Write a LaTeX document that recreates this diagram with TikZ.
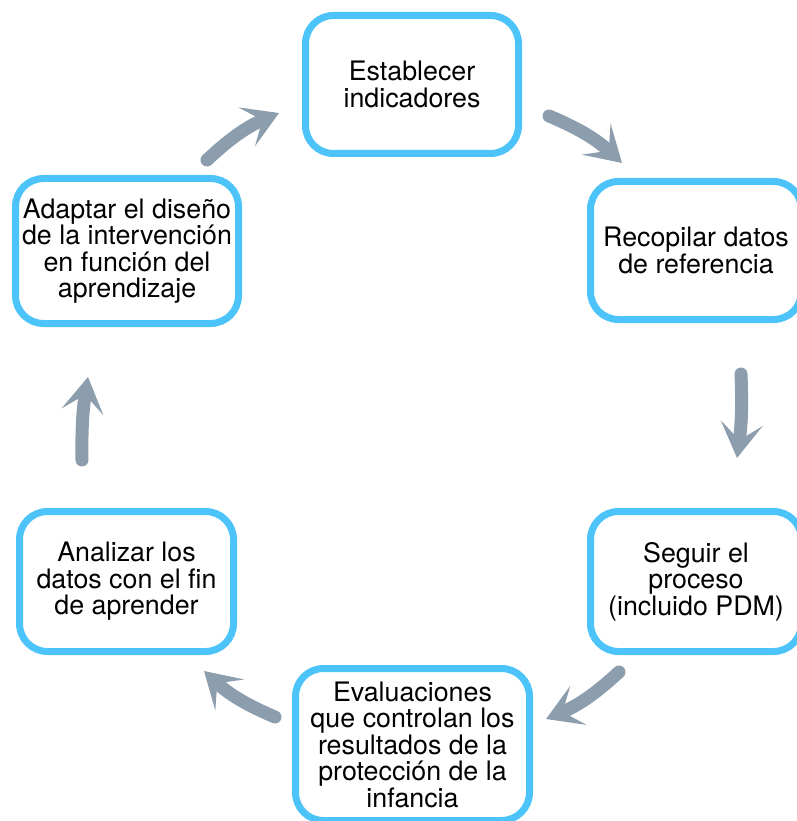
\documentclass[tikz,border=0pt]{standalone}
\usepackage{fontspec}
\setmainfont{TeX Gyre Heros}
\usetikzlibrary{arrows.meta}
\definecolor{boxblue}{HTML}{4CC4FA}
\definecolor{arrowgray}{HTML}{8C9DAD}
\begin{document}
\begin{tikzpicture}[x=1pt,y=-1pt,
  stage/.style={draw=boxblue, line width=7pt, rounded corners=28pt, fill=white,
    align=center, inner sep=0pt, font=\fontsize{26.8}{26.5}\selectfont},
  flow/.style={draw=arrowgray, line width=13pt, line cap=round,
    -{Stealth[length=35pt,width=42pt,inset=17pt]}}]
\useasboundingbox (0,0) rectangle (796,821);

\node[stage, minimum width=213pt, minimum height=138pt] (top) at (412,84.5)
  {Establecer\\indicadores};
\node[stage, minimum width=211pt, minimum height=138pt] (rt) at (696,250.5)
  {Recopilar datos\\de referencia};
\node[stage, minimum width=211pt, minimum height=140pt] (rb) at (696,581.5)
  {Seguir el\\proceso\\(incluido PDM)};
\node[stage, minimum width=234pt, minimum height=152pt] (bot) at (412.5,744.5)
  {Evaluaciones\\que controlan los\\resultados de la\\protección de la\\infancia};
\node[stage, minimum width=214pt, minimum height=140pt] (lb) at (126.5,581.5)
  {Analizar los\\datos con el fin\\de aprender};
\node[stage, minimum width=223pt, minimum height=145pt] (lt) at (127,251)
  {Adaptar el diseño\\de la intervención\\en función del\\aprendizaje};

\coordinate (a1s) at (207,160); \coordinate (a1e) at (279,113);
\coordinate (a2s) at (549,116); \coordinate (a2e) at (622,163);
\coordinate (a3s) at (741,374); \coordinate (a3e) at (737,458);
\coordinate (a4s) at (619,672); \coordinate (a4e) at (546,719);
\coordinate (a5s) at (275,717); \coordinate (a5e) at (204,671);
\coordinate (a6s) at (82,460);  \coordinate (a6e) at (88,377);

\draw[flow] (a1s) to[bend left=10] (a1e);
\draw[flow] (a2s) to[bend left=10] (a2e);
\draw[flow] (a3s) to[bend left=5] (a3e);
\draw[flow] (a4s) to[bend left=10] (a4e);
\draw[flow] (a5s) to[bend left=10] (a5e);
\draw[flow] (a6s) to[bend left=5] (a6e);
\end{tikzpicture}
\end{document}
